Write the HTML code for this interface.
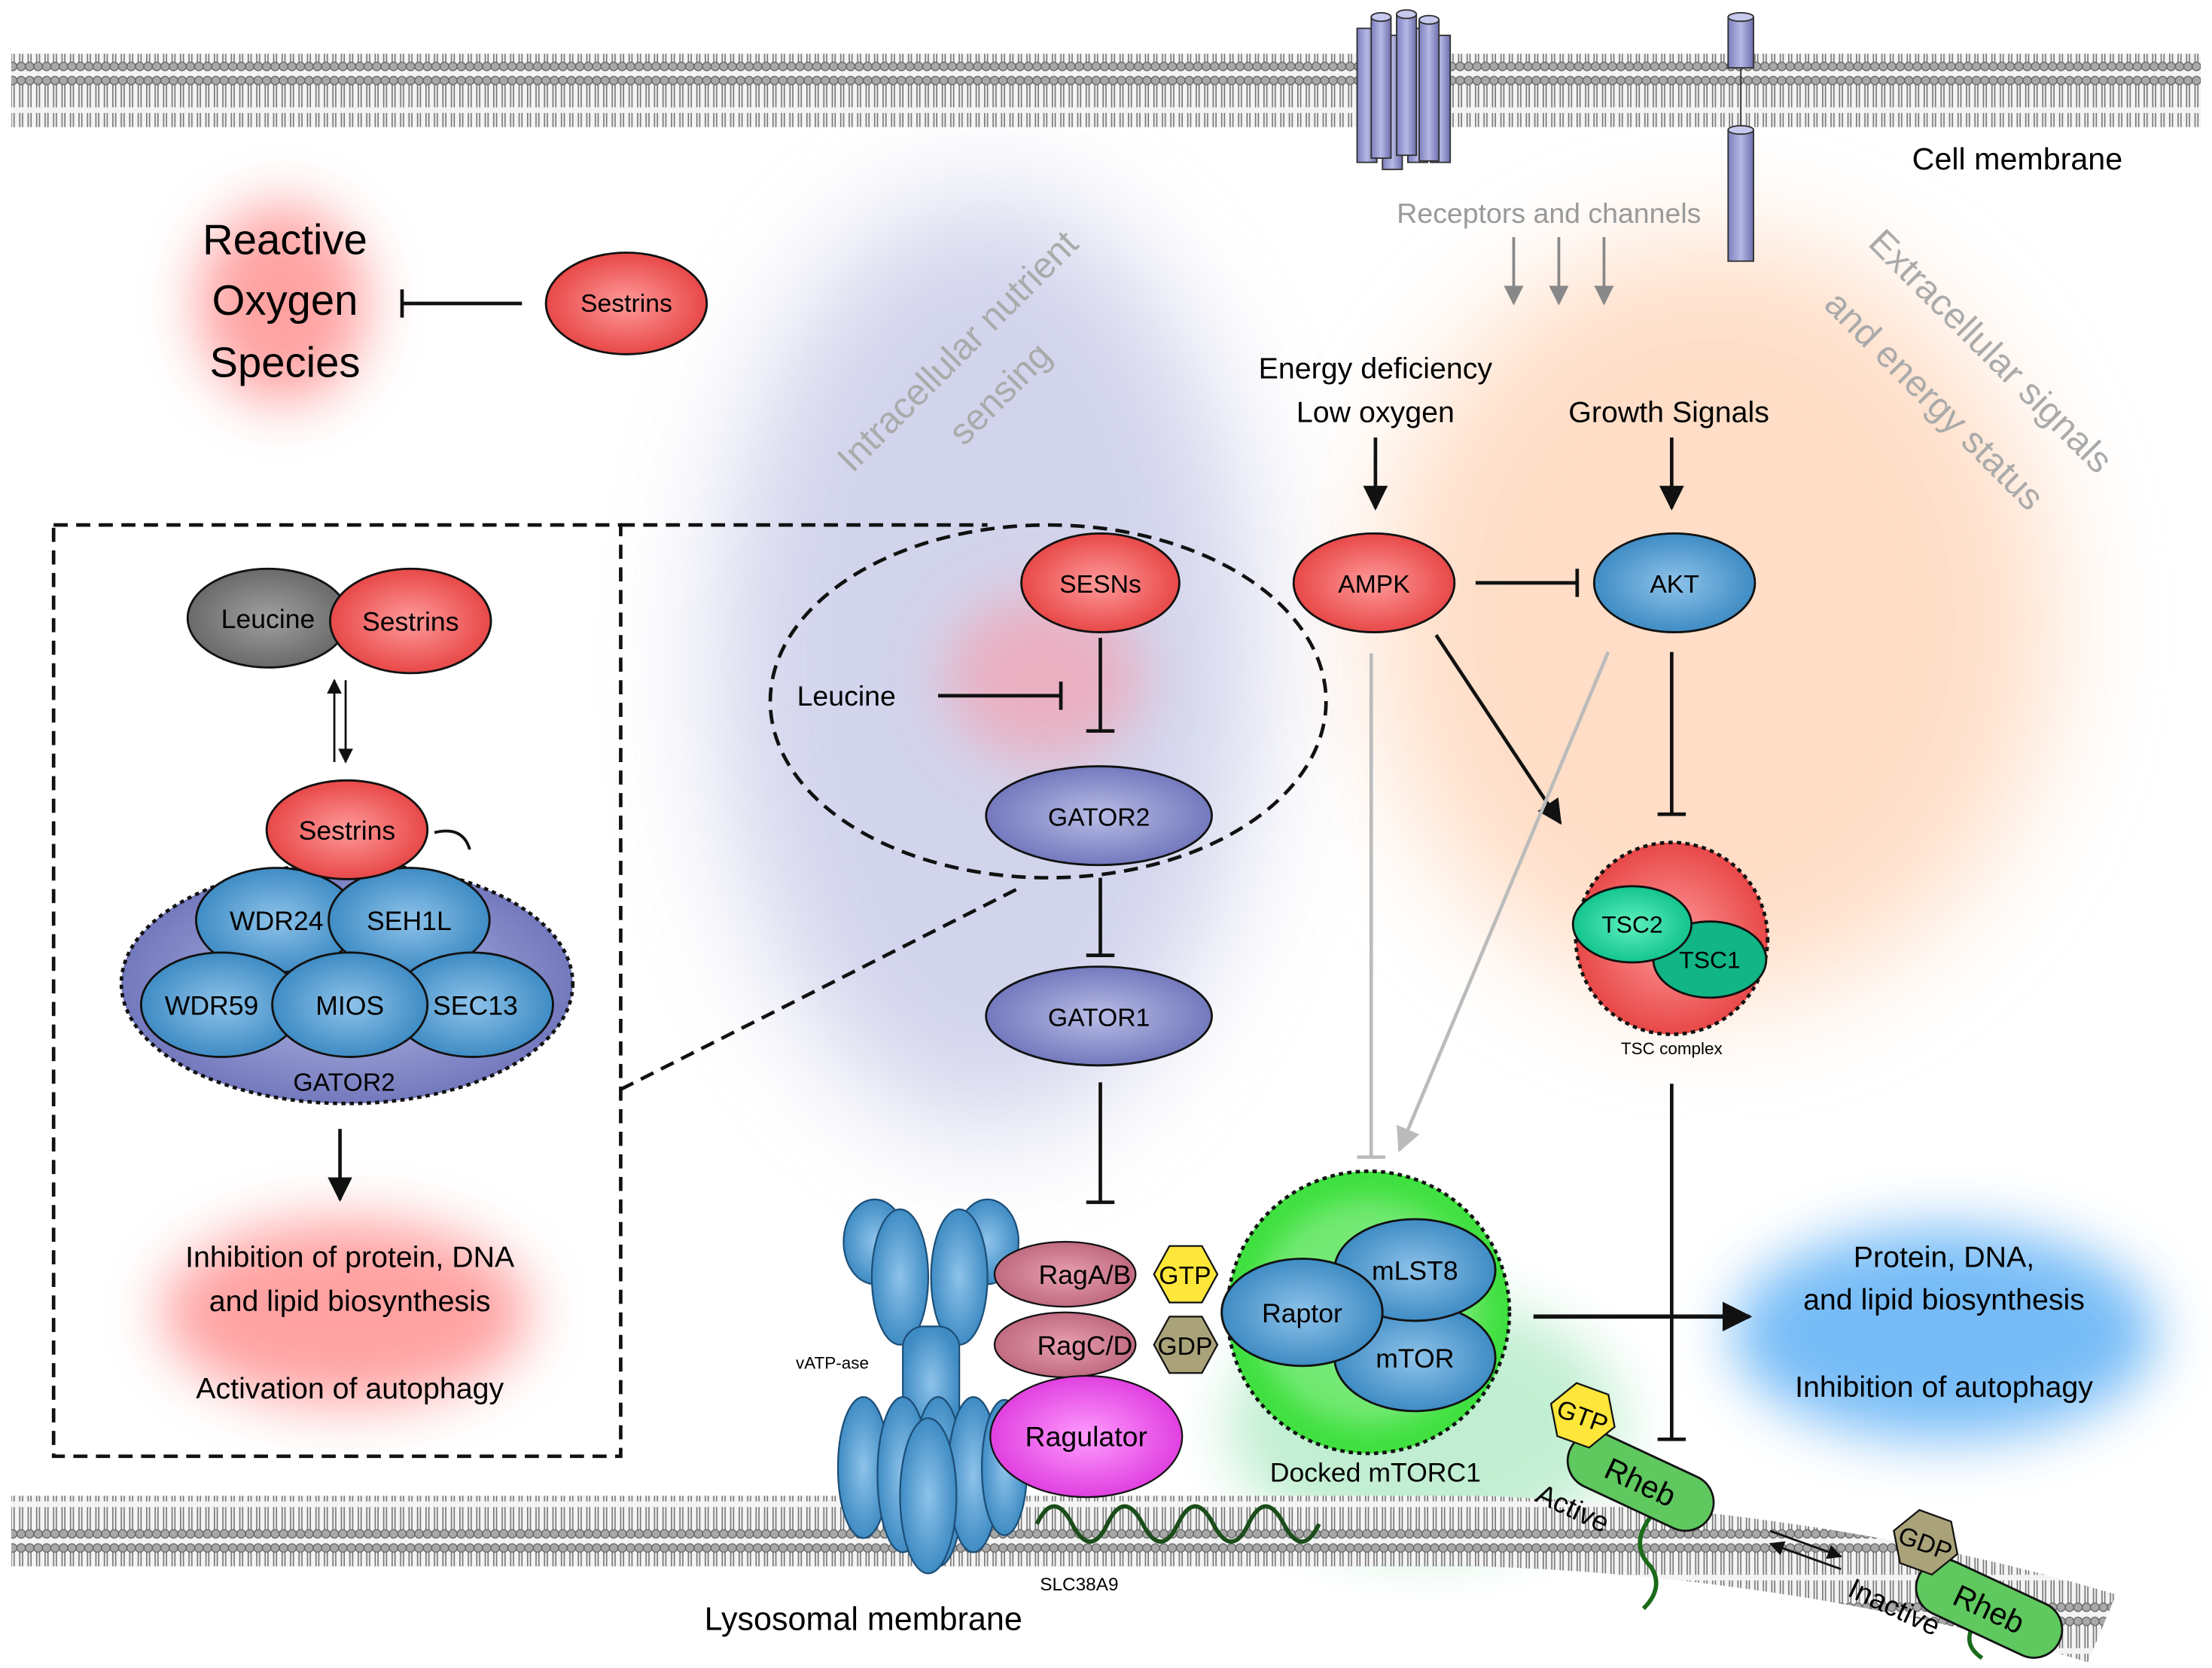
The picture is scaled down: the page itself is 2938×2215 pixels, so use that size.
<!DOCTYPE html>
<html><head><meta charset="utf-8"><style>html,body{margin:0;padding:0;background:#fff}svg{display:block}text{font-family:"Liberation Sans",sans-serif}</style></head><body>
<svg width="2938" height="2215" viewBox="0 0 1568 1182" xmlns="http://www.w3.org/2000/svg">
<defs>
<filter id="b40" x="-100%" y="-100%" width="300%" height="300%"><feGaussianBlur stdDeviation="40"/></filter>
<filter id="b20" x="-100%" y="-100%" width="300%" height="300%"><feGaussianBlur stdDeviation="20"/></filter>
<filter id="b10" x="-100%" y="-100%" width="300%" height="300%"><feGaussianBlur stdDeviation="10"/></filter>
<pattern id="mem" width="6" height="52" patternUnits="userSpaceOnUse">
<rect width="6" height="52" fill="#f4f4f4"/>
<line x1="2" y1="8" x2="2" y2="24" stroke="#777" stroke-width="0.9"/><line x1="4" y1="8" x2="4" y2="24" stroke="#777" stroke-width="0.9"/>
<line x1="2" y1="28" x2="2" y2="44" stroke="#777" stroke-width="0.9"/><line x1="4" y1="28" x2="4" y2="44" stroke="#777" stroke-width="0.9"/>
<circle cx="3" cy="5" r="3" fill="#a8a8a8" stroke="#666" stroke-width="0.7"/>
<circle cx="3" cy="47" r="3" fill="#a8a8a8" stroke="#666" stroke-width="0.7"/>
</pattern>
<radialGradient id="red" cx="50%" cy="50%" r="50%"><stop offset="0" stop-color="#ff9a9a"/><stop offset="1" stop-color="#e84848"/></radialGradient>
<radialGradient id="blue" cx="50%" cy="50%" r="50%"><stop offset="0" stop-color="#8ec3ea"/><stop offset="1" stop-color="#3f8cc4"/></radialGradient>
<radialGradient id="pur" cx="50%" cy="50%" r="50%"><stop offset="0" stop-color="#b8bde6"/><stop offset="1" stop-color="#7379bd"/></radialGradient>
<radialGradient id="grn" cx="50%" cy="50%" r="50%"><stop offset="0" stop-color="#5ff0c0"/><stop offset="1" stop-color="#13c48e"/></radialGradient>
<radialGradient id="gray" cx="50%" cy="50%" r="50%"><stop offset="0" stop-color="#a0a0a0"/><stop offset="1" stop-color="#6a6a6a"/></radialGradient>
<radialGradient id="mag" cx="50%" cy="50%" r="50%"><stop offset="0" stop-color="#ff9cff"/><stop offset="1" stop-color="#e040e0"/></radialGradient>
<radialGradient id="rag" cx="50%" cy="50%" r="50%"><stop offset="0" stop-color="#e8a0b0"/><stop offset="1" stop-color="#c06a80"/></radialGradient>
<linearGradient id="cyl" x1="0" x2="1"><stop offset="0" stop-color="#7d80bf"/><stop offset=".5" stop-color="#b6b8e4"/><stop offset="1" stop-color="#6c6fae"/></linearGradient>
<marker id="ar" viewBox="0 0 10 10" refX="9" refY="5" markerWidth="7" markerHeight="7" orient="auto"><path d="M0,0L10,5L0,10z" fill="#111"/></marker>
<marker id="arg" viewBox="0 0 10 10" refX="9" refY="5" markerWidth="7" markerHeight="7" orient="auto"><path d="M0,0L10,5L0,10z" fill="#888"/></marker>
<marker id="arl" viewBox="0 0 10 10" refX="9" refY="5" markerWidth="7" markerHeight="7" orient="auto"><path d="M0,0L10,5L0,10z" fill="#bbb"/></marker>
</defs>
<rect width="1568" height="1182" fill="#fff"/>
<ellipse cx="700" cy="470" rx="190" ry="330" fill="#c3c6e6" opacity=".75" filter="url(#b40)"/>
<ellipse cx="1215" cy="440" rx="240" ry="270" fill="#ffd8bd" opacity=".85" filter="url(#b40)"/>
<ellipse cx="740" cy="480" rx="70" ry="60" fill="#f5a0b0" opacity=".7" filter="url(#b20)"/>
<ellipse cx="200" cy="215" rx="60" ry="70" fill="#ff7a7a" opacity=".7" filter="url(#b20)"/>
<ellipse cx="245" cy="930" rx="130" ry="65" fill="#ff8a8a" opacity=".8" filter="url(#b20)"/>
<ellipse cx="1378" cy="945" rx="150" ry="75" fill="#5eb0f5" opacity=".85" filter="url(#b20)"/>
<ellipse cx="1010" cy="1010" rx="140" ry="90" fill="#a8e8c0" opacity=".7" filter="url(#b20)"/>
<rect x="8" y="38" width="1552" height="52" fill="url(#mem)"/>
<g stroke="#333" stroke-width="1">
<rect x="962" y="20" width="14" height="95" fill="url(#cyl)"/><rect x="980" y="25" width="14" height="95" fill="url(#cyl)"/><rect x="998" y="20" width="14" height="95" fill="url(#cyl)"/><rect x="1014" y="25" width="14" height="90" fill="url(#cyl)"/><rect x="972" y="12" width="14" height="100" fill="url(#cyl)"/><rect x="990" y="10" width="14" height="100" fill="url(#cyl)"/><rect x="1006" y="14" width="14" height="100" fill="url(#cyl)"/>
<ellipse cx="979" cy="12" rx="7" ry="3" fill="#c8c9ee"/><ellipse cx="997" cy="10" rx="7" ry="3" fill="#c8c9ee"/><ellipse cx="1013" cy="14" rx="7" ry="3" fill="#c8c9ee"/>
<rect x="1225" y="12" width="18" height="36" fill="url(#cyl)"/><line x1="1234" y1="48" x2="1234" y2="92"/><rect x="1225" y="92" width="18" height="93" fill="url(#cyl)"/>
<ellipse cx="1234" cy="12" rx="9" ry="3" fill="#c8c9ee"/><ellipse cx="1234" cy="92" rx="9" ry="3" fill="#c8c9ee"/>
</g>
<text x="1430" y="120" font-size="22" text-anchor="middle">Cell membrane</text>
<text x="1098" y="158" font-size="20" text-anchor="middle" fill="#999">Receptors and channels</text>
<g stroke="#888" stroke-width="2" marker-end="url(#arg)"><line x1="1073" y1="168" x2="1073" y2="215"/><line x1="1105" y1="168" x2="1105" y2="215"/><line x1="1137" y1="168" x2="1137" y2="215"/></g>
<text transform="translate(685,255) rotate(-45)" font-size="26" fill="#aaa" text-anchor="middle">Intracellular nutrient</text>
<text transform="translate(715,285) rotate(-45)" font-size="26" fill="#aaa" text-anchor="middle">sensing</text>
<text transform="translate(1405,255) rotate(45)" font-size="26" fill="#aaa" text-anchor="middle">Extracellular signals</text>
<text transform="translate(1365,290) rotate(45)" font-size="26" fill="#aaa" text-anchor="middle">and energy status</text>
<g font-size="30" text-anchor="middle"><text x="202" y="180">Reactive</text><text x="202" y="223">Oxygen</text><text x="202" y="267">Species</text></g>
<g stroke="#111" stroke-width="2.5"><line x1="370" y1="215" x2="285" y2="215"/><line x1="285" y1="205" x2="285" y2="225"/></g>
<ellipse cx="444" cy="215" rx="57" ry="36" fill="url(#red)" stroke="#111" stroke-width="1.5"/><text x="444" y="221" font-size="18" text-anchor="middle">Sestrins</text>
<g fill="none" stroke="#111" stroke-width="2.5" stroke-dasharray="10 6">
<rect x="38" y="372" width="402" height="660"/>
<ellipse cx="743" cy="497" rx="197" ry="125"/>
<line x1="440" y1="372" x2="700" y2="372"/><line x1="440" y1="772" x2="725" y2="628"/>
</g>
<ellipse cx="780" cy="413" rx="56" ry="35" fill="url(#red)" stroke="#111" stroke-width="1.5"/><text x="780" y="420" font-size="18" text-anchor="middle">SESNs</text>
<text x="600" y="500" font-size="20" text-anchor="middle">Leucine</text>
<g stroke="#111" stroke-width="2.5"><line x1="665" y1="493" x2="752" y2="493"/><line x1="752" y1="483" x2="752" y2="503"/>
<line x1="780" y1="452" x2="780" y2="518"/><line x1="770" y1="518" x2="790" y2="518"/>
<line x1="780" y1="622" x2="780" y2="677"/><line x1="770" y1="677" x2="790" y2="677"/>
<line x1="780" y1="767" x2="780" y2="852"/><line x1="770" y1="852" x2="790" y2="852"/></g>
<ellipse cx="779" cy="578" rx="80" ry="35" fill="url(#pur)" stroke="#111" stroke-width="1.5"/><text x="779" y="585" font-size="18" text-anchor="middle">GATOR2</text>
<ellipse cx="779" cy="720" rx="80" ry="35" fill="url(#pur)" stroke="#111" stroke-width="1.5"/><text x="779" y="727" font-size="18" text-anchor="middle">GATOR1</text>
<g font-size="21" text-anchor="middle"><text x="975" y="268">Energy deficiency</text><text x="975" y="299">Low oxygen</text><text x="1183" y="299">Growth Signals</text></g>
<g stroke="#111" stroke-width="2.5"><line x1="975" y1="310" x2="975" y2="360" marker-end="url(#ar)"/><line x1="1185" y1="310" x2="1185" y2="360" marker-end="url(#ar)"/>
<line x1="1046" y1="413" x2="1118" y2="413"/><line x1="1118" y1="403" x2="1118" y2="423"/>
<line x1="1018" y1="450" x2="1106" y2="583" marker-end="url(#ar)"/>
<line x1="1185" y1="462" x2="1185" y2="577"/><line x1="1175" y1="577" x2="1195" y2="577"/>
<line x1="1185" y1="768" x2="1185" y2="1020"/><line x1="1175" y1="1020" x2="1195" y2="1020"/>
<line x1="1087" y1="933" x2="1240" y2="933" stroke-width="3" marker-end="url(#ar)"/></g>
<g stroke="#bbb" stroke-width="2.5"><line x1="972" y1="463" x2="972" y2="820"/><line x1="962" y1="820" x2="982" y2="820"/><line x1="1140" y1="462" x2="992" y2="815" marker-end="url(#arl)"/></g>
<ellipse cx="974" cy="413" rx="57" ry="35" fill="url(#red)" stroke="#111" stroke-width="1.5"/><text x="974" y="420" font-size="18" text-anchor="middle">AMPK</text>
<ellipse cx="1187" cy="413" rx="57" ry="35" fill="url(#blue)" stroke="#111" stroke-width="1.5"/><text x="1187" y="420" font-size="18" text-anchor="middle">AKT</text>
<circle cx="1185" cy="665" r="68" fill="url(#red)" stroke="#111" stroke-width="2.5" stroke-dasharray="3 3"/>
<ellipse cx="1212" cy="680" rx="40" ry="27" fill="#12b585" stroke="#111" stroke-width="1.5"/><text x="1212" y="686" font-size="17" text-anchor="middle">TSC1</text>
<ellipse cx="1157" cy="655" rx="42" ry="27" fill="url(#grn)" stroke="#111" stroke-width="1.5"/><text x="1157" y="661" font-size="17" text-anchor="middle">TSC2</text>
<text x="1185" y="747" font-size="12" text-anchor="middle">TSC complex</text>
<path d="M8,1060 L1050,1060 Q1300,1070 1500,1130 L1480,1178 Q1280,1118 1050,1110 L8,1110 Z" fill="url(#mem)"/>
<text x="612" y="1155" font-size="23" text-anchor="middle">Lysosomal membrane</text>
<path d="M735,1080 q12,-25 25,0 t25,0 t25,0 t25,0 t25,0 t25,0 t25,0 t25,0" fill="none" stroke="#1a4d1a" stroke-width="3"/>
<text x="765" y="1127" font-size="13" text-anchor="middle">SLC38A9</text>
<g fill="url(#blue)" stroke="#1d4f78" stroke-width="1.2">
<ellipse cx="620" cy="880" rx="22" ry="30"/><ellipse cx="700" cy="880" rx="22" ry="30"/>
<ellipse cx="638" cy="905" rx="20" ry="48"/><ellipse cx="680" cy="905" rx="20" ry="48"/>
<rect x="640" y="940" width="40" height="80" rx="15"/>
<ellipse cx="612" cy="1040" rx="18" ry="50"/><ellipse cx="640" cy="1045" rx="18" ry="55"/><ellipse cx="665" cy="1050" rx="18" ry="60"/><ellipse cx="690" cy="1045" rx="18" ry="55"/><ellipse cx="712" cy="1040" rx="16" ry="48"/>
<ellipse cx="658" cy="1060" rx="20" ry="55"/>
</g>
<text x="590" y="970" font-size="12" text-anchor="middle">vATP-ase</text>
<ellipse cx="755" cy="903" rx="50" ry="23" fill="url(#rag)" stroke="#111" stroke-width="1.2"/><text x="769" y="910" font-size="19" text-anchor="middle">RagA/B</text>
<ellipse cx="755" cy="953" rx="50" ry="23" fill="url(#rag)" stroke="#111" stroke-width="1.2"/><text x="769" y="960" font-size="19" text-anchor="middle">RagC/D</text>
<polygon points="818,903 829,883 852,883 863,903 852,923 829,923" fill="#ffe63a" stroke="#111" stroke-width="1.2"/><text x="840" y="910" font-size="18" text-anchor="middle">GTP</text>
<polygon points="818,953 829,933 852,933 863,953 852,973 829,973" fill="#aaa37a" stroke="#111" stroke-width="1.2"/><text x="840" y="960" font-size="18" text-anchor="middle">GDP</text>
<ellipse cx="770" cy="1018" rx="68" ry="43" fill="url(#mag)" stroke="#111" stroke-width="1.2"/><text x="770" y="1025" font-size="20" text-anchor="middle">Ragulator</text>
<circle cx="970" cy="930" r="100" fill="#3ee03e" stroke="#111" stroke-width="2.5" stroke-dasharray="3 3"/>
<circle cx="970" cy="930" r="80" fill="#9af09a" opacity=".6" filter="url(#b10)"/>
<ellipse cx="1003" cy="962" rx="57" ry="38" fill="url(#blue)" stroke="#111" stroke-width="1.5"/><text x="1003" y="969" font-size="19" text-anchor="middle">mTOR</text>
<ellipse cx="1003" cy="900" rx="57" ry="36" fill="url(#blue)" stroke="#111" stroke-width="1.5"/><text x="1003" y="907" font-size="19" text-anchor="middle">mLST8</text>
<ellipse cx="923" cy="930" rx="57" ry="38" fill="url(#blue)" stroke="#111" stroke-width="1.5"/><text x="923" y="937" font-size="19" text-anchor="middle">Raptor</text>
<text x="975" y="1050" font-size="19" text-anchor="middle">Docked mTORC1</text>
<g font-size="21" text-anchor="middle"><text x="1378" y="898">Protein, DNA,</text><text x="1378" y="928">and lipid biosynthesis</text><text x="1378" y="990">Inhibition of autophagy</text></g>
<path d="M1170,1075 q-15,20 0,35 q10,15 -5,30" fill="none" stroke="#1a6a1a" stroke-width="3"/>
<g transform="translate(1163,1050) rotate(25)"><rect x="-55" y="-20" width="110" height="40" rx="20" fill="#5fc85f" stroke="#111" stroke-width="1.5"/><text x="0" y="8" font-size="22" text-anchor="middle">Rheb</text></g>
<g transform="translate(1122,1003) rotate(20)"><polygon points="-24,0 -12,-20 12,-20 24,0 12,20 -12,20" fill="#ffe63a" stroke="#111" stroke-width="1.2"/><text x="0" y="7" font-size="18" text-anchor="middle">GTP</text></g>
<text transform="translate(1112,1075) rotate(25)" font-size="20" text-anchor="middle">Active</text>
<g stroke="#111" stroke-width="1.5"><line x1="1255" y1="1085" x2="1305" y2="1103" marker-end="url(#ar)"/><line x1="1305" y1="1112" x2="1255" y2="1094" marker-end="url(#ar)"/></g>
<path d="M1400,1150 q-10,15 5,25" fill="none" stroke="#1a6a1a" stroke-width="3"/>
<g transform="translate(1410,1140) rotate(25)"><rect x="-55" y="-20" width="110" height="40" rx="20" fill="#5fc85f" stroke="#111" stroke-width="1.5"/><text x="0" y="8" font-size="22" text-anchor="middle">Rheb</text></g>
<g transform="translate(1365,1093) rotate(20)"><polygon points="-24,0 -12,-20 12,-20 24,0 12,20 -12,20" fill="#aaa37a" stroke="#111" stroke-width="1.2"/><text x="0" y="7" font-size="18" text-anchor="middle">GDP</text></g>
<text transform="translate(1340,1145) rotate(25)" font-size="20" text-anchor="middle">Inactive</text>
<ellipse cx="190" cy="438" rx="57" ry="35" fill="url(#gray)" stroke="#111" stroke-width="1.5"/><text x="190" y="445" font-size="19" text-anchor="middle">Leucine</text>
<ellipse cx="291" cy="440" rx="57" ry="37" fill="url(#red)" stroke="#111" stroke-width="1.5"/><text x="291" y="447" font-size="19" text-anchor="middle">Sestrins</text>
<g stroke="#111" stroke-width="1.5"><line x1="237" y1="540" x2="237" y2="482" marker-end="url(#ar)"/><line x1="245" y1="482" x2="245" y2="540" marker-end="url(#ar)"/></g>
<ellipse cx="246" cy="697" rx="160" ry="85" fill="url(#pur)" stroke="#111" stroke-width="2.5" stroke-dasharray="3 3"/>
<g fill="url(#blue)" stroke="#111" stroke-width="1.5">
<ellipse cx="196" cy="652" rx="57" ry="37"/><ellipse cx="290" cy="652" rx="57" ry="37"/>
<ellipse cx="157" cy="712" rx="57" ry="37"/><ellipse cx="335" cy="712" rx="57" ry="37"/><ellipse cx="248" cy="712" rx="55" ry="37"/></g>
<g font-size="19" text-anchor="middle"><text x="196" y="659">WDR24</text><text x="290" y="659">SEH1L</text><text x="150" y="719">WDR59</text><text x="248" y="719">MIOS</text><text x="337" y="719">SEC13</text></g>
<text x="244" y="773" font-size="18" text-anchor="middle">GATOR2</text>
<ellipse cx="246" cy="588" rx="57" ry="35" fill="url(#red)" stroke="#111" stroke-width="1.5"/><text x="246" y="595" font-size="19" text-anchor="middle">Sestrins</text>
<path d="M308,590 q20,-5 25,12" fill="none" stroke="#111" stroke-width="2"/>
<line x1="241" y1="800" x2="241" y2="850" stroke="#111" stroke-width="2.5" marker-end="url(#ar)"/>
<g font-size="21" text-anchor="middle"><text x="248" y="898">Inhibition of protein, DNA</text><text x="248" y="929">and lipid biosynthesis</text><text x="248" y="991">Activation of autophagy</text></g>
</svg>
</body></html>
